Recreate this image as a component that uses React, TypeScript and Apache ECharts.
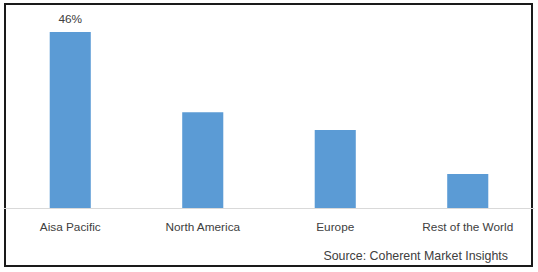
import React, { useEffect, useRef } from "react";
import * as echarts from "echarts";

const categories = ["Aisa Pacific", "North America", "Europe", "Rest of the World"];
const shares = [46, 25, 20.4, 8.9];
const shownLabels = ["46%", "", "", ""];
const sourceText = "Source: Coherent Market Insights";

export default function App() {
  const ref = useRef<HTMLDivElement>(null);
  useEffect(() => {
    const chart = echarts.init(ref.current!, null, { renderer: "svg" });
    chart.setOption({
      animation: false,
      backgroundColor: "#ffffff",
      textStyle: { fontFamily: "Liberation Sans, Arial, sans-serif" },
      grid: { left: 4, right: 4, top: 16.7, bottom: 64, containLabel: false },
      xAxis: {
        type: "category",
        data: categories,
        axisLine: { show: true, lineStyle: { color: "#d9d9d9", width: 1 } },
        axisTick: { show: false },
        axisLabel: { color: "#404040", fontSize: 11.8, margin: 13 },
      },
      yAxis: {
        type: "value",
        min: 0,
        max: 50,
        show: false,
        splitLine: { show: false },
      },
      series: [
        {
          type: "bar",
          data: shares,
          barWidth: "31%",
          itemStyle: { color: "#5b9bd5" },
          label: {
            show: true,
            position: "top",
            distance: 7,
            color: "#404040",
            fontSize: 11.8,
            formatter: (p: any) => shownLabels[p.dataIndex],
          },
        },
      ],
      graphic: [
        {
          type: "rect",
          shape: { x: 5, y: 4, width: 527, height: 262 },
          style: { fill: "none", stroke: "#1a1a1a", lineWidth: 2 },
          silent: true,
        },
        {
          type: "text",
          x: 508,
          y: 256,
          style: {
            text: sourceText,
            fill: "#404040",
            fontSize: 12.4,
            fontFamily: "Liberation Sans, Arial, sans-serif",
            align: "right",
            verticalAlign: "middle",
          },
        },
      ],
    });
    return () => chart.dispose();
  }, []);
  return (
    <div
      ref={ref}
      style={{ position: "fixed", left: 0, top: 0, width: 538, height: 272 }}
    />
  );
}
